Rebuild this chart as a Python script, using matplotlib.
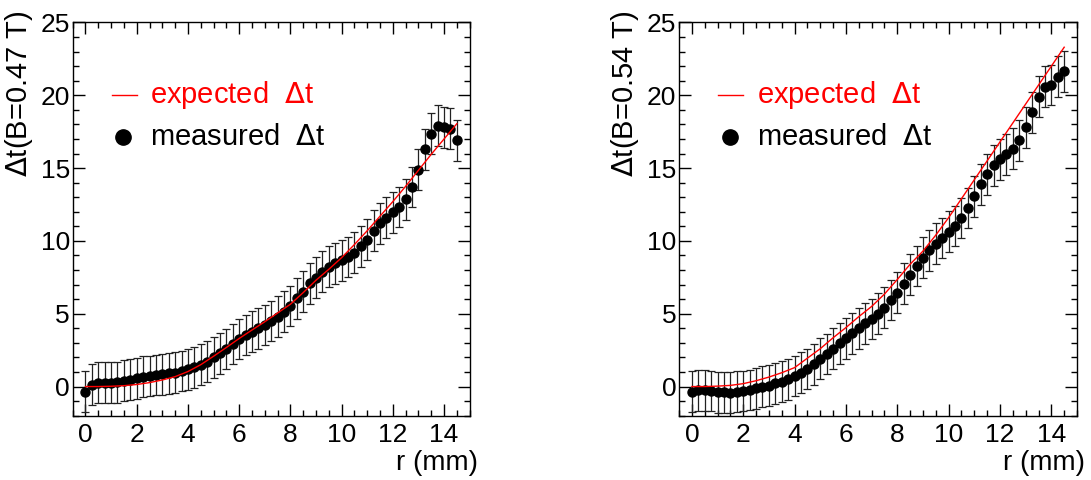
import numpy as np
import matplotlib
matplotlib.use("Agg")
import matplotlib.pyplot as plt
from matplotlib.ticker import MultipleLocator

plt.rcParams['font.family'] = ['Liberation Sans', 'DejaVu Sans']

# radial bins (mm), 0.25 mm wide
r = np.arange(59) * 0.25

dt_047 = [-0.34, 0.12, 0.27, 0.27, 0.27, 0.30, 0.39, 0.46, 0.57, 0.68,
          0.73, 0.80, 0.84, 0.91, 0.96, 1.07, 1.19, 1.33, 1.49, 1.71,
          2.01, 2.28, 2.58, 2.92, 3.27, 3.54, 3.77, 4.00, 4.23, 4.50,
          4.80, 5.14, 5.53, 6.05, 6.51, 7.08, 7.47, 7.88, 8.22, 8.45,
          8.68, 8.90, 9.20, 9.62, 10.08, 10.70, 11.20, 11.60, 11.97, 12.33,
          12.86, 13.70, 14.89, 16.28, 17.36, 17.90, 17.80, 17.70, 16.90]

dt_054 = [-0.34, -0.27, -0.27, -0.30, -0.39, -0.39, -0.43, -0.34, -0.30, -0.23,
          -0.11, 0.00, 0.07, 0.23, 0.34, 0.50, 0.73, 0.96, 1.21, 1.53,
          1.90, 2.24, 2.60, 2.97, 3.31, 3.66, 4.00, 4.34, 4.64, 5.00,
          5.42, 5.94, 6.44, 7.05, 7.67, 8.28, 8.85, 9.36, 9.80, 10.20,
          10.62, 11.03, 11.58, 12.26, 13.06, 13.88, 14.57, 15.18, 15.60, 15.94,
          16.33, 16.90, 17.81, 18.84, 19.91, 20.60, 20.71, 21.28, 21.64]

err_047 = 1.4
err_054 = 1.4

# expected curves, sampled every 0.5 mm
r_exp = np.arange(30) * 0.5
exp_047 = [0.0, 0.0, 0.02, 0.06, 0.14, 0.27, 0.45, 0.68, 1.03, 1.50,
           2.08, 2.68, 3.30, 3.88, 4.45, 5.05, 5.65, 6.45, 7.30, 8.05,
           8.85, 9.75, 10.70, 11.70, 12.70, 13.75, 14.85, 15.95, 17.00, 18.05]
exp_054 = [0.0, 0.0, 0.03, 0.08, 0.20, 0.40, 0.65, 0.95, 1.30, 1.95,
           2.60, 3.35, 4.05, 4.80, 5.50, 6.35, 7.35, 8.40, 9.30, 10.40,
           11.60, 12.90, 14.20, 15.50, 16.80, 18.10, 19.40, 20.70, 22.00, 23.30]

panels = [
    (dt_047, err_047, exp_047, r'$\Delta$t(B=0.47 T)'),
    (dt_054, err_054, exp_054, r'$\Delta$t(B=0.54 T)'),
]

fig = plt.figure(figsize=(10.91, 4.8), dpi=100)
boxes = [[0.0666, 0.134, 0.3639, 0.8192], [0.6224, 0.134, 0.3648, 0.8192]]

for box, (meas, err, expd, ylab) in zip(boxes, panels):
    ax = fig.add_axes(box)
    ax.errorbar(r, meas, yerr=err, fmt='o', color='black', ms=6.5,
                ecolor='#222222', elinewidth=0.9, capsize=3.2, capthick=0.9, zorder=2)
    ax.plot(r_exp, expd, color='red', lw=1.0, zorder=3)

    ax.set_xlim(-0.5, 15)
    ax.set_ylim(-2, 25)
    ax.xaxis.set_major_locator(MultipleLocator(2))
    ax.xaxis.set_minor_locator(MultipleLocator(0.5))
    ax.yaxis.set_major_locator(MultipleLocator(5))
    ax.yaxis.set_minor_locator(MultipleLocator(1))
    ax.tick_params(which='both', direction='in', top=True, right=True, width=1.0)
    ax.tick_params(which='major', length=8.5, labelsize=19)
    ax.tick_params(which='minor', length=4.3)
    ax.tick_params(axis='x', pad=5)
    ax.tick_params(axis='y', pad=2)
    for s in ax.spines.values():
        s.set_linewidth(1.0)

    ax.set_xlabel('r (mm)', fontsize=20, loc='right')
    ax.xaxis.set_label_coords(1.021, -0.087)
    ax.set_ylabel(ylab, fontsize=21, loc='top')
    ax.yaxis.set_label_coords(-0.095, 1.032)

    # legend drawn by hand
    ax.plot([0.098, 0.161], [0.816, 0.816], color='red', lw=1.0,
            transform=ax.transAxes)
    ax.text(0.195, 0.816, r'expected  $\Delta$t', color='red', fontsize=21,
            va='center', transform=ax.transAxes)
    ax.plot([0.128], [0.709], 'o', color='black', ms=11, transform=ax.transAxes)
    ax.text(0.195, 0.709, r'measured  $\Delta$t', color='black', fontsize=21,
            va='center', transform=ax.transAxes)

fig.savefig('out.png', dpi=100)
